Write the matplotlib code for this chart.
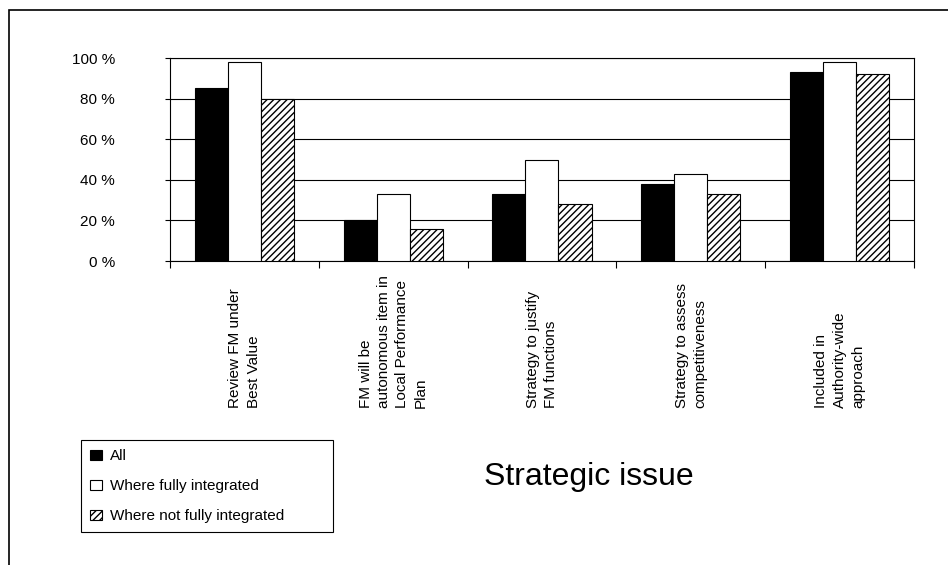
import numpy as np
import matplotlib
matplotlib.use('Agg')
from matplotlib import pyplot as plt
from matplotlib.patches import Rectangle

plt.rcParams['font.family'] = ['Liberation Sans', 'DejaVu Sans']
plt.rcParams['hatch.linewidth'] = 1.0

# data
categories = ['Review FM under\nBest Value',
              'FM will be\nautonomous item in\nLocal Performance\nPlan',
              'Strategy to justify\nFM functions',
              'Strategy to assess\ncompetitiveness',
              'Included in\nAuthority-wide\napproach']
all_vals = [85, 20, 33, 38, 93]
fully_vals = [98, 33, 50, 43, 98]
not_fully_vals = [80, 16, 28, 33, 92]
series_names = ['All', 'Where fully integrated', 'Where not fully integrated']
ytick_vals = [0, 20, 40, 60, 80, 100]
ytick_labels = ['%d %%' % v for v in ytick_vals]

fig = plt.figure(figsize=(9.48, 5.65), dpi=100)
ax = fig.add_axes([0.1793, 0.538, 0.7848, 0.3593])

# outer frame (only top/left visible, cut off at right/bottom)
fig.patches.append(Rectangle((9 / 948, -0.1), 1.2, 1 - 10 / 565 + 0.1,
                             transform=fig.transFigure, fill=False,
                             edgecolor='black', linewidth=1.2))

x = np.arange(len(categories))
w = 0.222
ax.bar(x - w, all_vals, w, color='black', edgecolor='black', linewidth=0.8,
       label=series_names[0], zorder=3)
ax.bar(x, fully_vals, w, color='white', edgecolor='black', linewidth=0.8,
       label=series_names[1], zorder=3)
ax.bar(x + w, not_fully_vals, w, color='white', edgecolor='black', hatch='/////',
       linewidth=0.8, label=series_names[2], zorder=3)

ax.set_xlim(-0.5, len(categories) - 0.5)
ax.set_ylim(0, 100)
ax.set_yticks(ytick_vals)
ax.set_yticklabels(ytick_labels, fontsize=11)
ax.yaxis.grid(True, color='black', linewidth=0.8, zorder=0)
ax.set_axisbelow(True)
ax.tick_params(axis='y', length=3.6, width=0.8, pad=36)

ax.set_xticks([])
ax.set_xticks(np.arange(len(categories) + 1) - 0.5, minor=True)
ax.tick_params(axis='x', which='minor', length=5, width=0.8, direction='out')
for sp in ax.spines.values():
    sp.set_linewidth(0.8)

for i, lab in enumerate(categories):
    ax.text(i, -0.724, lab, transform=ax.get_xaxis_transform(), rotation=90,
            ha='center', va='bottom', multialignment='left', fontsize=11,
            linespacing=1.4)

fig.text(589 / 948, 1 - 477 / 565, 'Strategic issue', fontsize=23,
         ha='center', va='center')

leg = fig.legend(loc='upper left',
                 bbox_to_anchor=(81 / 948, 1 - 530 / 565, 252 / 948, 90 / 565),
                 mode='expand', borderaxespad=0, fontsize=11, fancybox=False,
                 framealpha=1, edgecolor='black', handlelength=0.8,
                 handleheight=0.65, handletextpad=0.5, labelspacing=1.05,
                 borderpad=0.6)
leg.get_frame().set_linewidth(0.8)

fig.savefig('out.png', dpi=100)
